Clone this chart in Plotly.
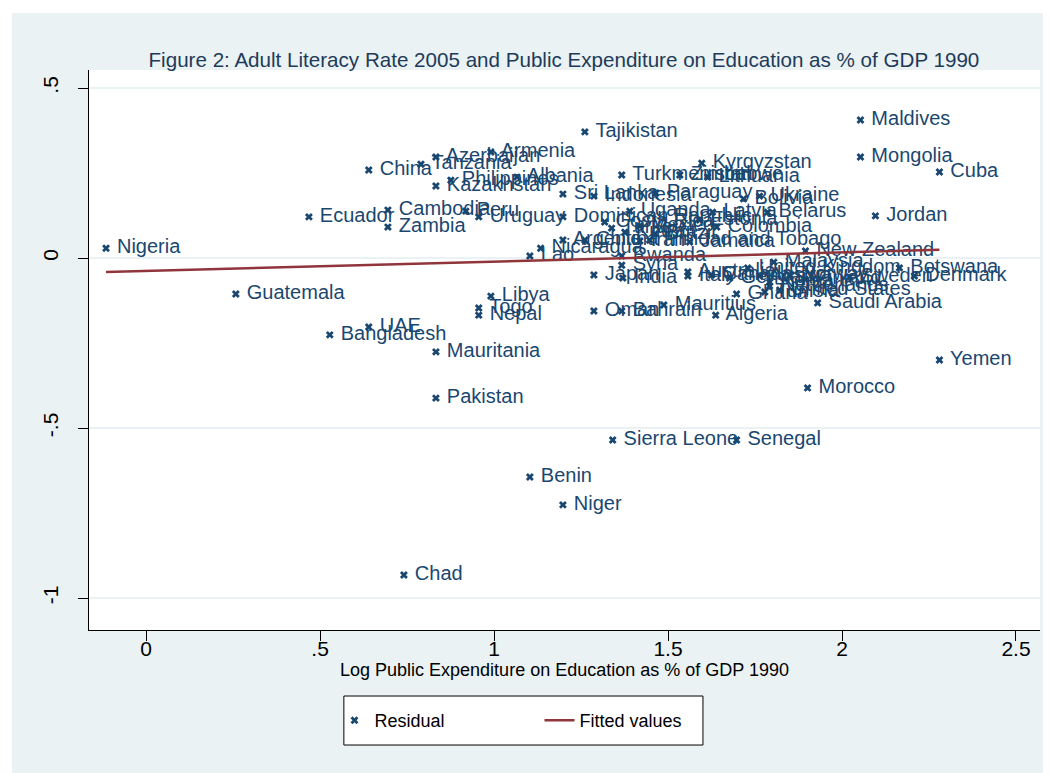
import plotly.graph_objects as go

# data --------------------------------------------------------------
countries = [
    "Nigeria", "Guatemala", "Bangladesh", "UAE", "China", "Ecuador", "Cambodia", "Zambia",
    "Tanzania", "Azerbaijan", "Kazakhstan", "Philippines", "Mauritania", "Pakistan", "Chad",
    "Peru", "Uruguay", "Armenia", "Albania", "Libya", "Togo", "Nepal", "Benin", "Niger",
    "Nicaragua", "Lao", "Argentina", "Dominican Republic", "Sri Lanka", "Tajikistan",
    "Sierra Leone", "Indonesia", "Turkmenistan", "Paraguay", "Zimbabwe", "Lithuania",
    "Kyrgyzstan", "Bolivia", "Ukraine", "Latvia", "Belarus", "Uganda", "Estonia", "Colombia",
    "Turkey", "Costa Rica", "Kuwait", "Mexico", "Brazil", "Chile", "Iran",
    "Trinidad and Tobago", "Jamaica", "Rwanda", "Syria", "India", "Japan", "Australia",
    "Italy", "Canada", "Germany", "United Kingdom", "Malaysia", "New Zealand", "Austria",
    "Korea", "Norway", "Finland", "Netherlands", "United States", "Sweden", "Denmark",
    "Botswana", "Ghana", "Tunisia", "Saudi Arabia", "Algeria", "Mauritius", "Bahrain", "Oman",
    "Maldives", "Mongolia", "Cuba", "Jordan", "Yemen", "Morocco", "Senegal",
]
log_expenditure = [
    -0.115, 0.258, 0.528, 0.640, 0.640, 0.468, 0.695, 0.695,
    0.790, 0.833, 0.833, 0.876, 0.833, 0.833, 0.741,
    0.919, 0.956, 0.991, 1.066, 0.991, 0.956, 0.956, 1.103, 1.198,
    1.134, 1.103, 1.198, 1.198, 1.198, 1.261,
    1.341, 1.287, 1.367, 1.465, 1.534, 1.614,
    1.597, 1.717, 1.763, 1.628, 1.786, 1.390, 1.591, 1.640,
    1.338, 1.318, 1.376, 1.419, 1.462, 1.261, 1.419,
    1.447, 1.562, 1.367, 1.367, 1.370, 1.287, 1.557,
    1.557, 1.625, 1.677, 1.729, 1.804, 1.895, 1.763,
    1.792, 1.850, 1.893, 1.792, 1.821, 2.022, 2.208,
    2.165, 1.697, 1.778, 1.930, 1.637, 1.488, 1.367, 1.287,
    2.053, 2.053, 2.280, 2.096, 2.280, 1.901, 1.697,
]
residual = [
    0.029, -0.106, -0.226, -0.203, 0.259, 0.121, 0.141, 0.091,
    0.276, 0.297, 0.212, 0.229, -0.276, -0.412, -0.932,
    0.138, 0.121, 0.312, 0.238, -0.112, -0.147, -0.168, -0.644, -0.726,
    0.029, 0.006, 0.053, 0.121, 0.188, 0.371,
    -0.535, 0.182, 0.244, 0.191, 0.244, 0.238,
    0.279, 0.174, 0.182, 0.135, 0.135, 0.138, 0.112, 0.091,
    0.088, 0.106, 0.076, 0.094, 0.071, 0.053, 0.050,
    0.053, 0.047, 0.006, -0.021, -0.059, -0.050, -0.041,
    -0.053, -0.050, -0.059, -0.029, -0.012, 0.021, -0.053,
    -0.071, -0.050, -0.062, -0.082, -0.094, -0.056, -0.053,
    -0.029, -0.106, -0.100, -0.132, -0.168, -0.138, -0.156, -0.156,
    0.406, 0.297, 0.253, 0.124, -0.300, -0.382, -0.535,
]
fit_x = [-0.115, 2.280]
fit_y = [-0.041, 0.024]

x_ticks = [0, 0.5, 1, 1.5, 2, 2.5]
x_labels = ["0", ".5", "1", "1.5", "2", "2.5"]
y_ticks = [0.5, 0, -0.5, -1]
y_labels = [".5", "0", "-.5", "-1"]

navy = "#1a476f"
maroon = "#90353b"
bg = "#eaf2f3"

fig = go.Figure()
fig.add_trace(go.Scatter(
    x=log_expenditure, y=residual, mode="markers+text", name="Residual",
    text=countries, texttemplate=" %{text}", textposition="middle right",
    textfont=dict(family="Liberation Sans, Arial", size=20, color=navy),
    marker=dict(symbol="x", size=7, color=navy),
))
fig.add_trace(go.Scatter(
    x=fit_x, y=fit_y, mode="lines", name="Fitted values",
    line=dict(color=maroon, width=2.5),
))

# white strips at the top and left of the page
fig.add_shape(type="rect", xref="paper", yref="paper", x0=-0.1, x1=1.1, y0=1.1018, y1=1.13,
              fillcolor="white", line_width=0, layer="below")
fig.add_shape(type="rect", xref="paper", yref="paper", x0=-0.1, x1=-0.081, y0=-0.3, y1=1.13,
              fillcolor="white", line_width=0, layer="below")
# legend box
fig.add_shape(type="rect", xref="paper", yref="paper", x0=0.268, x1=0.6456, y0=-0.2054, y1=-0.1179,
              fillcolor="white", line=dict(color="black", width=1), layer="below")

fig.update_layout(
    width=1043, height=765,
    margin=dict(l=81, r=11, t=62, b=143),
    paper_bgcolor=bg, plot_bgcolor="white",
    font=dict(family="Liberation Sans, Arial", color="black"),
    title=dict(
        text="Figure 2: Adult Literacy Rate 2005 and Public Expenditure on Education as % of GDP 1990",
        xref="container", x=0.533, xanchor="center",
        yref="container", y=0.932, yanchor="middle",
        font=dict(size=20.6, color="#1e3a5a"),
    ),
    showlegend=True,
    legend=dict(
        orientation="h", x=0.4737, xanchor="center", y=-0.1616, yanchor="middle",
        bgcolor="rgba(0,0,0,0)", borderwidth=0,
        font=dict(size=18), entrywidth=160,
    ),
)
fig.update_xaxes(
    range=[-0.164, 2.569], tickvals=x_ticks, ticktext=x_labels,
    showgrid=False, zeroline=False, showline=True, linecolor="black", linewidth=1,
    ticks="outside", ticklen=10, tickcolor="black", tickfont=dict(size=21),
    ticklabelstandoff=-10,
    title=dict(text="Log Public Expenditure on Education as % of GDP 1990",
               font=dict(size=18), standoff=2),
)
fig.update_yaxes(
    range=[-1.094, 0.553], tickvals=y_ticks, ticktext=y_labels, tickangle=-90,
    showgrid=True, gridcolor=bg, gridwidth=1.5, zeroline=False,
    showline=True, linecolor="black", linewidth=1,
    ticks="outside", ticklen=10, tickcolor="black", tickfont=dict(size=21),
    ticklabelstandoff=12,
)

fig.write_html("out.html")
